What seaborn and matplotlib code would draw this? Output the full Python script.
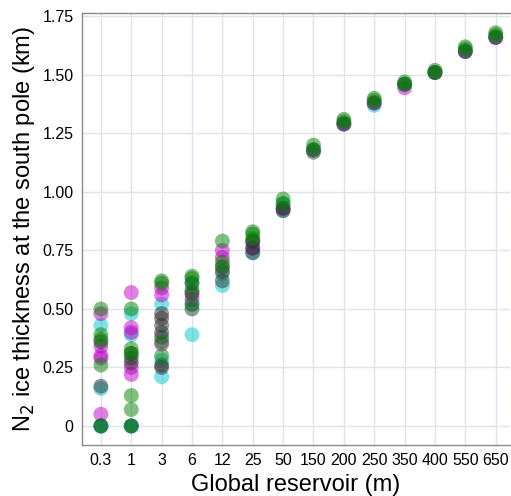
import matplotlib
matplotlib.use("Agg")
import matplotlib.pyplot as plt
import numpy as np
import pandas as pd
import seaborn as sns

# reservoir categories (m)
reservoir = ["0.3", "1", "3", "6", "12", "25", "50", "150", "200", "250", "350", "400", "550", "650"]

# ice thickness (km) per category, one list per colour group
cyan_vals = [[0.43, 0.0, 0.0, 0.16], [0.48, 0.39, 0.0, 0.0], [0.52, 0.28, 0.21], [0.39, 0.52, 0.61],
             [0.60, 0.65], [0.74, 0.78], [0.92, 0.95], [1.18], [1.29], [1.37], [1.46],
             [1.51], [1.60], [1.66]]
magenta_vals = [[0.48, 0.34, 0.30, 0.29, 0.05], [0.57, 0.42, 0.40, 0.25, 0.22], [0.59, 0.56, 0.35],
                [0.54, 0.56], [0.75, 0.72, 0.68], [0.76, 0.79], [0.93], [1.18], [1.29], [1.38],
                [1.445], [1.51], [1.60], [1.66]]
gray_vals = [[0.17, 0.36, 0.0], [0.29, 0.27, 0.31, 0.0], [0.48, 0.46, 0.43, 0.40, 0.38, 0.26, 0.25],
             [0.50, 0.57, 0.61], [0.62, 0.66], [0.74, 0.76, 0.79], [0.92, 0.93], [1.17], [1.29],
             [1.38], [1.46], [1.51], [1.60], [1.66]]
green_vals = [[0.50, 0.39, 0.37, 0.26, 0.0], [0.50, 0.33, 0.31, 0.13, 0.07, 0.0],
              [0.62, 0.61, 0.36, 0.30], [0.64, 0.63, 0.58, 0.52], [0.79, 0.70, 0.68],
              [0.83, 0.82, 0.80], [0.97, 0.95], [1.20, 1.18], [1.31, 1.30], [1.40, 1.39],
              [1.47, 1.46], [1.52, 1.51], [1.62, 1.61], [1.68, 1.67]]

groups = {"cyan": cyan_vals, "magenta": magenta_vals, "gray": gray_vals, "green": green_vals}
colors = {"cyan": "#00c8cc", "magenta": "#c000c8", "gray": "#303030", "green": "#008000"}

rows = []
for name, vals in groups.items():
    for cat, ys in zip(reservoir, vals):
        for y in ys:
            rows.append((cat, y, name))
df = pd.DataFrame(rows, columns=["reservoir", "thickness", "group"])

sns.set_style("whitegrid")
plt.rcParams["font.family"] = ["Liberation Sans", "DejaVu Sans"]

fig = plt.figure(figsize=(5.11, 4.96), dpi=100)
ax = fig.add_axes([0.160, 0.103, 0.838, 0.871])

sns.scatterplot(data=df, x="reservoir", y="thickness", hue="group", palette=colors,
                s=115, alpha=0.5, linewidth=0, legend=False, ax=ax)

ax.set_xlim(-0.63, 13.47)
ax.set_ylim(-0.081, 1.765)
ax.set_yticks([0, 0.25, 0.5, 0.75, 1.0, 1.25, 1.5, 1.75])
ax.set_yticklabels(["0", "0.25", "0.50", "0.75", "1.00", "1.25", "1.50", "1.75"])
ax.grid(True, color="#dfe4ea", linewidth=1)
for side, sp in ax.spines.items():
    sp.set_color("#8a8a8a")
    sp.set_linewidth(1)
ax.spines["right"].set_visible(False)
ax.tick_params(labelsize=11.5, length=0, pad=6, labelcolor="black")
ax.set_xlabel("Global reservoir (m)", fontsize=17, color="black")
ax.set_ylabel("N$_2$ ice thickness at the south pole (km)", fontsize=17, color="black")

fig.savefig("out.png", dpi=100)
